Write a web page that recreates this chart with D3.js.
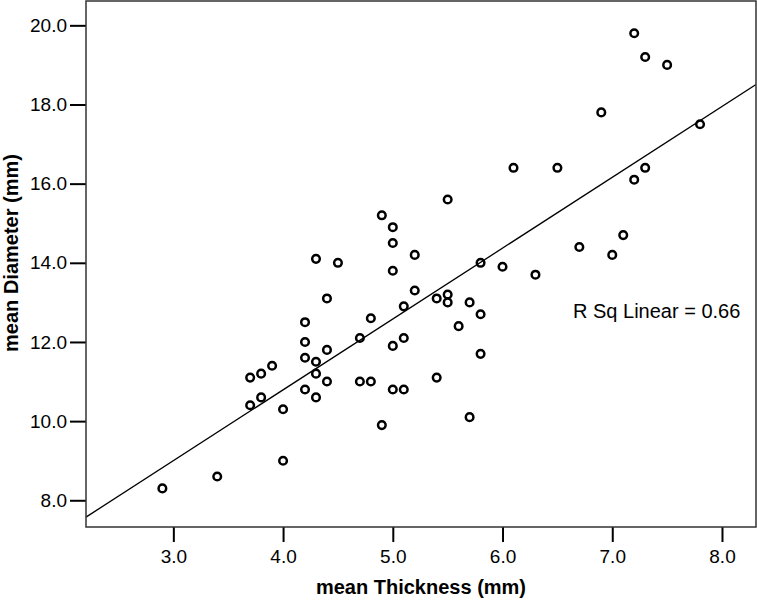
<!DOCTYPE html>
<html>
<head>
<meta charset="utf-8">
<script src="https://cdn.jsdelivr.net/npm/d3@7"></script>
<style>
  html, body { margin: 0; padding: 0; background: #fff; }
  svg { display: block; font-family: "Liberation Sans", Arial, Helvetica, sans-serif; }
</style>
</head>
<body>
<svg id="chart" width="757" height="600"></svg>
<script>
// ---- data ----
const thickness = [
  2.9, 3.4, 3.7, 3.7, 3.8, 3.8, 3.9, 4.0, 4.0,
  4.2, 4.2, 4.2, 4.2, 4.3, 4.3, 4.3, 4.3, 4.4, 4.4, 4.4, 4.5,
  4.7, 4.7, 4.8, 4.8, 4.9, 4.9, 5.0, 5.0, 5.0, 5.0, 5.0,
  5.1, 5.1, 5.1, 5.2, 5.2, 5.4, 5.4, 5.5, 5.5, 5.5, 5.6,
  5.7, 5.7, 5.8, 5.8, 5.8, 6.0, 6.1, 6.3, 6.5, 6.7, 6.9,
  7.0, 7.1, 7.2, 7.2, 7.3, 7.3, 7.5, 7.8
];
const diameter = [
  8.3, 8.6, 11.1, 10.4, 11.2, 10.6, 11.4, 10.3, 9.0,
  12.5, 12.0, 11.6, 10.8, 14.1, 11.5, 11.2, 10.6, 13.1, 11.8, 11.0, 14.0,
  12.1, 11.0, 12.6, 11.0, 15.2, 9.9, 14.9, 14.5, 13.8, 11.9, 10.8,
  12.9, 12.1, 10.8, 14.2, 13.3, 13.1, 11.1, 15.6, 13.2, 13.0, 12.4,
  13.0, 10.1, 14.0, 12.7, 11.7, 13.9, 16.4, 13.7, 16.4, 14.4, 17.8,
  14.2, 14.7, 19.8, 16.1, 19.2, 16.4, 19.0, 17.5
];
const xTicks = [3, 4, 5, 6, 7, 8];
const yTicks = [8, 10, 12, 14, 16, 18, 20];
const fitIntercept = 3.63;
const fitSlope = 1.79;
const rSqLabel = "R Sq Linear = 0.66";
const xTitle = "mean Thickness (mm)";
const yTitle = "mean Diameter (mm)";

// ---- layout ----
const plot = { left: 86, right: 756, top: 1, bottom: 527 };
const svg = d3.select("#chart");

const x = d3.scaleLinear().domain([2.204, 8.31]).range([plot.left, plot.right]);
const y = d3.scaleLinear().domain([7.325, 20.64]).range([527, 0]);

// clip
svg.append("defs").append("clipPath").attr("id", "clip")
  .append("rect")
  .attr("x", plot.left).attr("y", plot.top)
  .attr("width", plot.right - plot.left).attr("height", plot.bottom - plot.top);

// axes
const yAxis = d3.axisLeft(y).tickValues(yTicks).tickFormat(d3.format(".1f"))
  .tickSize(16).tickSizeOuter(0).tickPadding(3);
const gy = svg.append("g").attr("transform", `translate(${plot.left},0)`).call(yAxis);
gy.select(".domain").remove();
gy.selectAll(".tick line").attr("stroke", "#000").attr("stroke-width", 2);
gy.selectAll(".tick text").attr("font-size", 19).attr("fill", "#000")
  .attr("font-family", "'Liberation Sans', Arial, sans-serif");

const xAxis = d3.axisBottom(x).tickValues(xTicks).tickFormat(d3.format(".1f"))
  .tickSize(15).tickSizeOuter(0).tickPadding(8);
const gx = svg.append("g").attr("transform", `translate(0,${plot.bottom})`).call(xAxis);
gx.select(".domain").remove();
gx.selectAll(".tick line").attr("stroke", "#000").attr("stroke-width", 2);
gx.selectAll(".tick text").attr("font-size", 19).attr("fill", "#000")
  .attr("font-family", "'Liberation Sans', Arial, sans-serif");

// regression line
const x0 = x.domain()[0], x1 = x.domain()[1];
svg.append("line")
  .attr("clip-path", "url(#clip)")
  .attr("x1", x(x0)).attr("y1", y(fitIntercept + fitSlope * x0))
  .attr("x2", x(x1)).attr("y2", y(fitIntercept + fitSlope * x1))
  .attr("stroke", "#000").attr("stroke-width", 1.3);

// points
const pts = thickness.map((t, i) => ({ t, d: diameter[i] }));
svg.append("g").selectAll("circle").data(pts).join("circle")
  .attr("cx", p => x(p.t)).attr("cy", p => y(p.d))
  .attr("r", 3.8)
  .attr("fill", "none").attr("stroke", "#000").attr("stroke-width", 2.5);

// frame
svg.append("path")
  .attr("d", `M${plot.left},${plot.top}H${plot.right}V${plot.bottom}H${plot.left}Z`)
  .attr("fill", "none").attr("stroke", "#333").attr("stroke-width", 1.5);

// R sq label
svg.append("text").attr("x", 573).attr("y", 318)
  .attr("font-size", 20).attr("fill", "#000").text(rSqLabel);

// axis titles
svg.append("text").attr("x", (plot.left + plot.right) / 2).attr("y", 594)
  .attr("text-anchor", "middle").attr("font-size", 20).attr("font-weight", "bold")
  .attr("fill", "#000").text(xTitle);
svg.append("text").attr("transform", "translate(18,253) rotate(-90)")
  .attr("text-anchor", "middle").attr("font-size", 20).attr("font-weight", "bold")
  .attr("fill", "#000").text(yTitle);
</script>
</body>
</html>
